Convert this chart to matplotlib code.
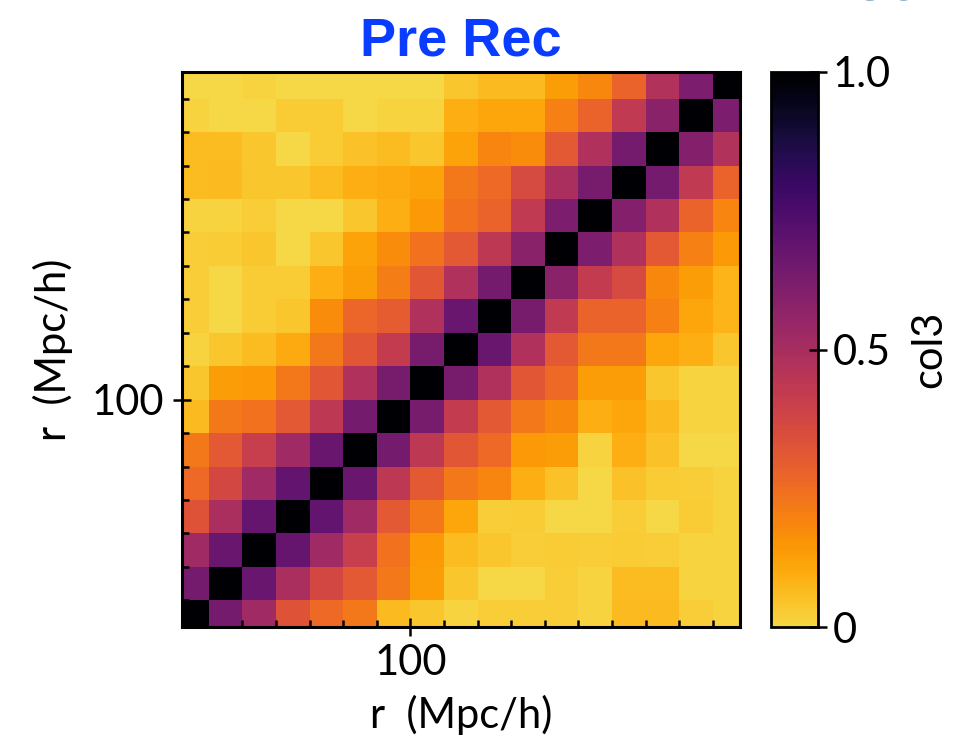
import numpy as np
import matplotlib
matplotlib.use("Agg")
import matplotlib.pyplot as plt
from matplotlib.colors import ListedColormap

# r bin edges (Mpc/h)
r_edges = np.arange(30, 201, 10)

# correlation matrix, rows from bottom (small r) to top
corr_rows = [
    [1.00, 0.64, 0.52, 0.33, 0.26, 0.22, 0.07, 0.04, 0.01, 0.02, 0.02, 0.02, 0.01, 0.07, 0.07, 0.02, 0.01],
    [0.64, 1.00, 0.67, 0.49, 0.37, 0.31, 0.22, 0.13, 0.04, 0.00, 0.00, 0.02, 0.01, 0.06, 0.06, 0.01, 0.01],
    [0.52, 0.67, 1.00, 0.68, 0.52, 0.41, 0.24, 0.14, 0.06, 0.04, 0.02, 0.03, 0.02, 0.03, 0.02, 0.01, 0.01],
    [0.33, 0.49, 0.68, 1.00, 0.69, 0.52, 0.31, 0.22, 0.11, 0.02, 0.03, 0.00, 0.00, 0.02, 0.00, 0.03, 0.01],
    [0.26, 0.37, 0.52, 0.69, 1.00, 0.67, 0.44, 0.31, 0.22, 0.19, 0.09, 0.05, 0.00, 0.05, 0.03, 0.02, 0.01],
    [0.22, 0.31, 0.41, 0.52, 0.67, 1.00, 0.64, 0.44, 0.32, 0.26, 0.14, 0.13, 0.01, 0.09, 0.05, 0.00, 0.00],
    [0.07, 0.22, 0.24, 0.31, 0.44, 0.64, 1.00, 0.63, 0.42, 0.31, 0.22, 0.18, 0.09, 0.11, 0.07, 0.01, 0.01],
    [0.04, 0.13, 0.14, 0.22, 0.32, 0.48, 0.63, 1.00, 0.63, 0.48, 0.32, 0.26, 0.13, 0.13, 0.04, 0.01, 0.01],
    [0.01, 0.04, 0.06, 0.10, 0.22, 0.32, 0.42, 0.63, 1.00, 0.67, 0.48, 0.31, 0.22, 0.22, 0.11, 0.09, 0.04],
    [0.02, 0.00, 0.03, 0.04, 0.17, 0.27, 0.30, 0.48, 0.67, 1.00, 0.63, 0.43, 0.28, 0.28, 0.20, 0.11, 0.08],
    [0.02, 0.00, 0.03, 0.03, 0.09, 0.13, 0.21, 0.32, 0.48, 0.64, 1.00, 0.58, 0.42, 0.36, 0.18, 0.13, 0.08],
    [0.02, 0.03, 0.04, 0.00, 0.04, 0.12, 0.17, 0.24, 0.31, 0.44, 0.58, 1.00, 0.62, 0.48, 0.31, 0.20, 0.14],
    [0.01, 0.01, 0.02, 0.00, 0.00, 0.04, 0.09, 0.14, 0.24, 0.28, 0.43, 0.62, 1.00, 0.60, 0.48, 0.28, 0.19],
    [0.06, 0.07, 0.04, 0.04, 0.06, 0.09, 0.10, 0.12, 0.22, 0.26, 0.36, 0.49, 0.63, 1.00, 0.64, 0.43, 0.28],
    [0.06, 0.06, 0.04, 0.00, 0.03, 0.05, 0.06, 0.04, 0.12, 0.19, 0.17, 0.31, 0.48, 0.64, 1.00, 0.60, 0.47],
    [0.01, 0.00, 0.00, 0.03, 0.03, 0.00, 0.01, 0.01, 0.09, 0.11, 0.11, 0.20, 0.28, 0.43, 0.58, 1.00, 0.62],
    [0.00, 0.00, 0.01, 0.00, 0.00, 0.00, 0.00, 0.00, 0.04, 0.07, 0.07, 0.13, 0.18, 0.28, 0.47, 0.62, 1.00],
]

plt.rcParams['font.family'] = ['Lato', 'DejaVu Sans']

# inferno reversed, but stopping at the deep yellow
cmap = ListedColormap(plt.cm.inferno_r(np.linspace(0.1, 1, 256)))

fig = plt.figure(figsize=(9.62, 7.46), dpi=100)
ax = fig.add_axes([0.189, 0.1595, 0.58, 0.744])
cax = fig.add_axes([0.8015, 0.1595, 0.049, 0.744])

mesh = ax.pcolormesh(r_edges, r_edges, np.array(corr_rows), cmap=cmap, vmin=0, vmax=1)
ax.set_xlim(32, 198)
ax.set_ylim(32, 198)

ax.set_xticks([100])
ax.set_yticks([100])
ax.set_xticks(np.arange(50, 200, 10), minor=True)
ax.set_yticks(np.arange(40, 200, 10), minor=True)
ax.tick_params(which='major', direction='inout', length=13, width=1.8, labelsize=30, pad=6)
ax.tick_params(which='minor', direction='in', length=5, width=1.8)
for s in ax.spines.values():
    s.set_linewidth(2.2)

ax.set_xlabel('r  (Mpc/h)', fontsize=30, labelpad=9)
ax.set_ylabel('r  (Mpc/h)', fontsize=30, labelpad=14)
ax.set_title('Pre Rec', fontsize=39, fontweight='bold', color='#0a3cff',
             family='Liberation Sans', pad=12)

cb = fig.colorbar(mesh, cax=cax, ticks=[0, 0.5, 1.0])
cb.ax.set_yticklabels(['0', '0.5', '1.0'])
cb.ax.tick_params(direction='inout', length=13, width=1.8, labelsize=30, pad=4)
cb.outline.set_linewidth(2)
cb.set_label('col3', fontsize=30, labelpad=14)

# cut-off heading of the neighbouring panel
fig.text(0.882, 0.999, 'Corr', fontsize=39, fontweight='bold', color='#1a5a8c',
         family='Liberation Sans', va='baseline')

fig.savefig('out.png', dpi=100)
